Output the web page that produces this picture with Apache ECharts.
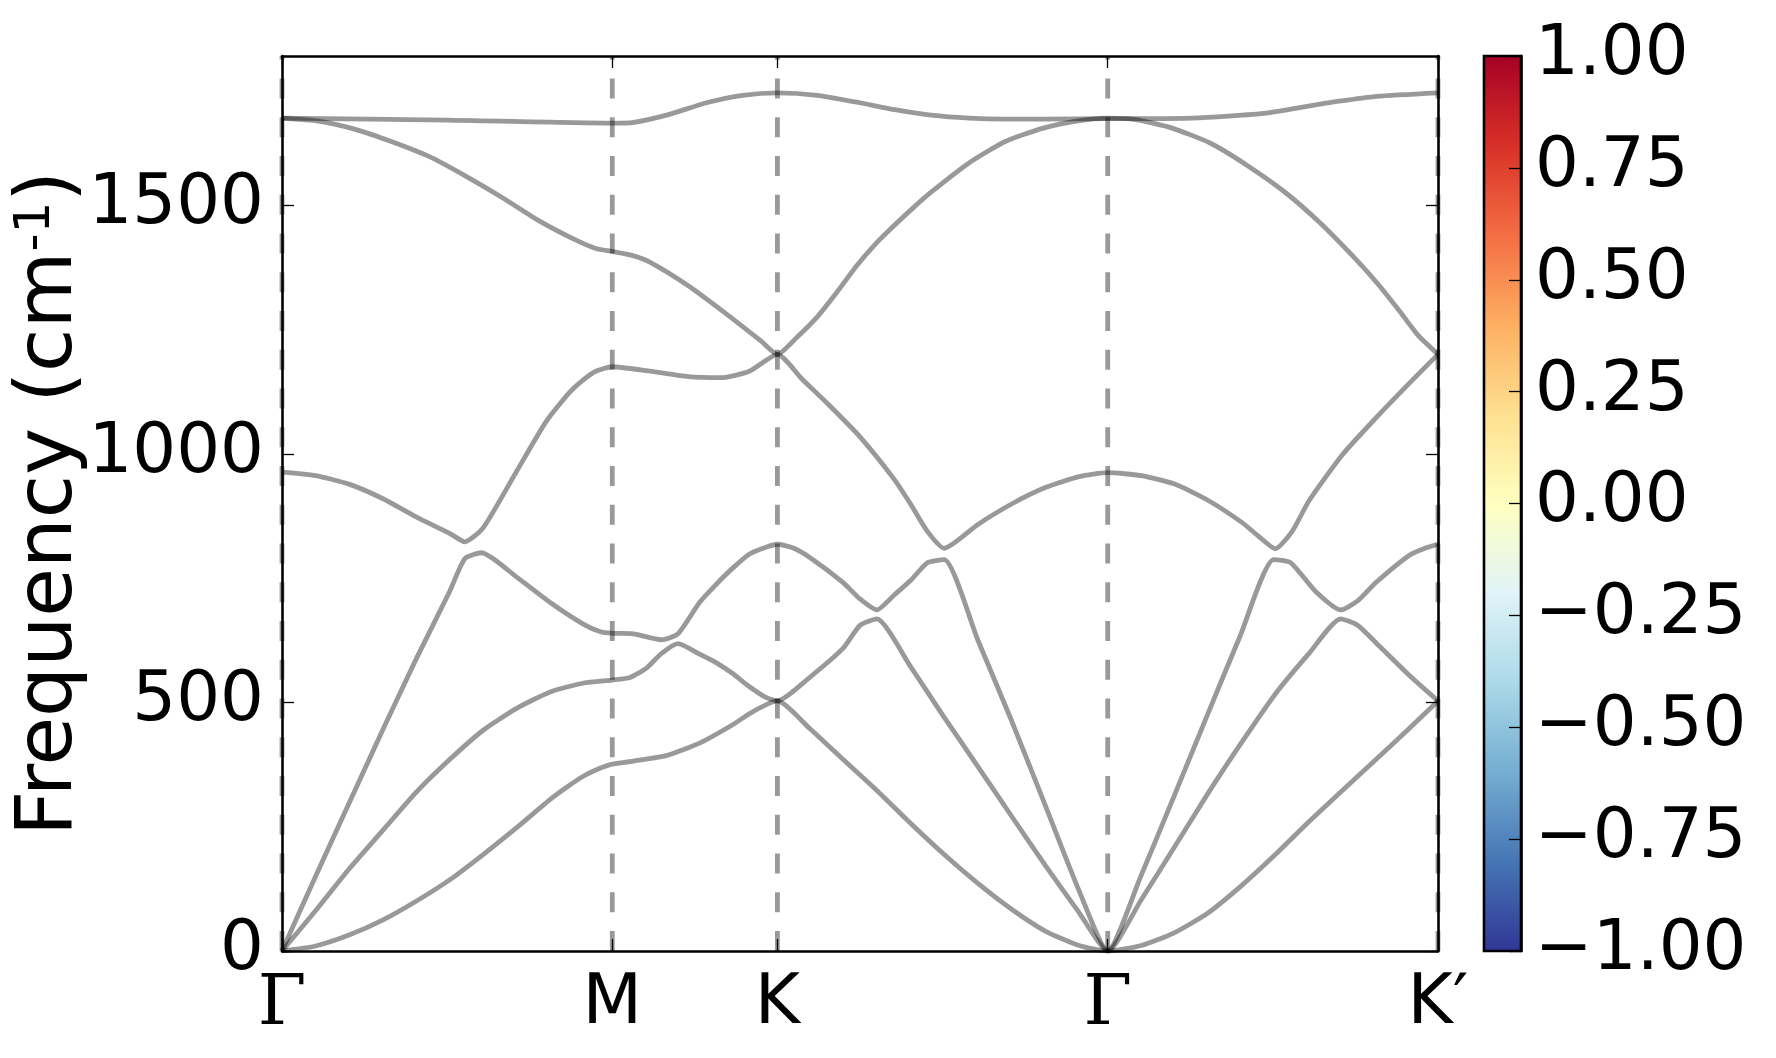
<!DOCTYPE html>
<html>
<head>
<meta charset="utf-8">
<script src="https://cdn.jsdelivr.net/npm/echarts@6/dist/echarts.min.js"></script>
<style>
  html, body { margin: 0; padding: 0; background: #fff; }
  #main { width: 1776px; height: 1058px; }
</style>
</head>
<body>
<div id="main"></div>
<script>
// high-symmetry points along the path (path length units) and their labels
var kTicks = [0, 2, 3, 5, 7];
var kLabels = ['Γ', 'M', 'K', 'Γ', 'K′'];
var freqTicks = [0, 500, 1000, 1500];
var cbTicks = [-1, -0.75, -0.5, -0.25, 0, 0.25, 0.5, 0.75, 1];

// phonon bands, [k, frequency cm-1] (bands sorted by energy)
var band1 = [[0,0],[0.203,10],[0.406,32],[0.609,62],[0.812,100],[1.015,143],[1.218,194],[1.421,248],[1.624,305],[1.726,330],[1.827,352],[1.929,368],[2,376],
  [2.127,382],[2.327,393],[2.528,418],[2.729,455],[2.829,477],[2.93,495],[3,503],
  [3.194,448],[3.398,385],[3.602,323],[3.806,257],[4.01,194],[4.214,136],[4.418,84],[4.622,40],[4.827,11],[5,0],
  [5.203,11],[5.406,37],[5.609,77],[5.812,132],[6.015,194],[6.218,260],[6.421,323],[6.624,385],[6.827,448],[7,503]];
var band2 = [[0,0],[0.203,81],[0.406,165],[0.609,242],[0.812,319],[1.015,385],[1.218,444],[1.421,488],[1.624,521],[1.827,539],[2,545],
  [2.107,550],[2.207,569],[2.297,598],[2.398,618],[2.528,597],[2.628,580],[2.729,558],[2.829,532],[2.93,510],[3,503],
  [3.194,550],[3.398,609],[3.5,655],[3.602,668],[3.806,572],[4.01,470],[4.214,371],[4.418,271],[4.622,172],[4.827,77],[5,0],
  [5.203,103],[5.406,210],[5.609,318],[5.812,420],[6.015,517],[6.218,598],[6.411,668],[6.513,655],[6.624,620],[6.827,554],[7,503]];
var band3 = [[0,0],[0.203,150],[0.406,297],[0.609,444],[0.812,587],[1.015,723],[1.107,789],[1.208,801],[1.421,752],[1.624,701],[1.827,657],[1.929,642],[2,639],
  [2.127,638],[2.297,626],[2.398,638],[2.528,701],[2.628,737],[2.729,770],[2.829,798],[2.93,812],[3,818],
  [3.092,811],[3.194,792],[3.398,741],[3.5,708],[3.602,686],[3.704,715],[3.806,745],[3.908,781],[4.01,787],[4.214,625],[4.418,463],[4.622,293],[4.827,121],[5,0],
  [5.2,150],[5.4,310],[5.6,472],[5.8,632],[6.005,787],[6.107,781],[6.259,723],[6.411,686],[6.513,704],[6.624,741],[6.827,796],[6.929,811],[7,818]];
var band4 = [[0,963],[0.203,956],[0.406,939],[0.609,910],[0.812,873],[1.015,840],[1.107,823],[1.218,851],[1.421,965],[1.6,1065],[1.74,1123],[1.83,1150],[1.9,1166],[2,1175],
  [2.23,1166],[2.46,1155],[2.66,1153],[2.83,1166],[3,1200],
  [3.15,1150],[3.3,1102],[3.5,1034],[3.704,950],[3.806,899],[3.908,844],[4.01,810],[4.214,858],[4.418,899],[4.622,932],[4.827,954],[5,962],
  [5.203,956],[5.406,939],[5.609,906],[5.812,862],[5.914,834],[6.015,809],[6.117,844],[6.218,905],[6.421,998],[6.624,1072],[6.827,1142],[7,1200]];
var band5 = [[0,1675],[0.22,1669],[0.45,1652],[0.67,1627],[0.89,1598],[1.12,1557],[1.34,1514],[1.56,1468],[1.79,1428],[1.9,1413],[2,1407],
  [2.12,1399],[2.23,1385],[2.46,1338],[2.68,1284],[2.9,1227],[3,1200],
  [3.12,1235],[3.24,1275],[3.36,1325],[3.48,1378],[3.6,1424],[3.71,1460],[3.82,1494],[3.93,1526],[4.16,1585],[4.38,1628],[4.61,1655],[4.83,1670],[5,1675],
  [5.17,1672],[5.39,1655],[5.62,1625],[5.84,1581],[6.07,1527],[6.29,1463],[6.52,1385],[6.64,1340],[6.76,1290],[6.88,1238],[7,1200]];
var band6 = [[0,1675],[1,1671],[2,1665],[2.12,1666],[2.34,1682],[2.57,1706],[2.79,1721],[3,1726],[3.24,1721],[3.5,1706],[3.71,1692],[3.93,1681],[4.16,1675],
  [4.38,1673],[4.61,1673],[5,1674],[5.28,1674],[5.51,1675],[5.73,1679],[5.96,1685],[6.18,1697],[6.4,1709],[6.63,1719],[7,1726]];

var bands = [band1, band2, band3, band4, band5, band6];
var fMax = 1800;

// RdYlBu reversed, top (1.00) to bottom (-1.00)
var cbColors = ['#a50026', '#d73027', '#f46d43', '#fdae61', '#fee090', '#ffffbf', '#e0f3f8', '#abd9e9', '#74add1', '#4575b4', '#313695'];

var myChart = echarts.init(document.getElementById('main'));

var gray = 'rgba(0,0,0,0.4)';
var font = 'DejaVu Sans';
var tickFont = 69;

var seriesArr = [];
// dashed vertical lines at the high-symmetry points
kTicks.forEach(function (k) {
    seriesArr.push({
        type: 'line',
        xAxisIndex: 0,
        yAxisIndex: 0,
        data: [[k, 0], [k, fMax]],
        symbol: 'none',
        silent: true,
        lineStyle: { color: gray, width: 4.8, type: [20, 18.75] },
        z: 2
    });
});
bands.forEach(function (b) {
    seriesArr.push({
        type: 'line',
        xAxisIndex: 0,
        yAxisIndex: 0,
        data: b,
        symbol: 'none',
        smooth: 0.2,
        lineStyle: { color: gray, width: 4.8 },
        z: 3
    });
});

var gradStops = cbColors.map(function (c, i) {
    return { offset: i / (cbColors.length - 1), color: c };
});

var tickStyle = { color: '#000', width: 1.3 };
var frameStyle = { color: '#000', width: 2.6 };

var option = {
    animation: false,
    backgroundColor: '#fff',
    textStyle: { fontFamily: font },
    grid: [
        { left: 282, top: 56, width: 1156, height: 895, containLabel: false, outerBoundsMode: 'none' },
        { left: 1484, top: 56, width: 37, height: 895, containLabel: false, outerBoundsMode: 'none' }
    ],
    xAxis: [
        {
            gridIndex: 0, type: 'value', min: 0, max: 7, position: 'bottom',
            axisLine: { show: true, onZero: false, lineStyle: frameStyle },
            axisTick: { show: true, inside: true, length: 12, customValues: kTicks, lineStyle: tickStyle },
            axisLabel: {
                customValues: kTicks, margin: 20, color: '#000', fontSize: tickFont, fontFamily: font,
                formatter: function (v) {
                    var i = kTicks.indexOf(Math.round(v * 1000) / 1000);
                    var s = i >= 0 ? kLabels[i] : '';
                    return s === 'Γ' ? '{g|Γ}' : s;
                },
                rich: { g: { fontFamily: 'DejaVu Serif', fontSize: 70, color: '#000' } }
            },
            splitLine: { show: false }
        },
        {
            gridIndex: 0, type: 'value', min: 0, max: 7, position: 'top',
            axisLine: { show: true, onZero: false, lineStyle: frameStyle },
            axisTick: { show: true, inside: true, length: 12, customValues: kTicks, lineStyle: tickStyle },
            axisLabel: { show: false },
            splitLine: { show: false }
        },
        {
            gridIndex: 1, type: 'value', min: 0, max: 1, show: false
        }
    ],
    yAxis: [
        {
            gridIndex: 0, type: 'value', min: 0, max: fMax, position: 'left',
            name: 'Frequency (cm{sup|-1})',
            nameLocation: 'middle',
            nameGap: 192,
            nameMoveOverlap: false,
            nameTextStyle: {
                fontSize: 79, color: '#000', fontFamily: font,
                rich: { sup: { fontSize: 50, verticalAlign: 'top', color: '#000', fontFamily: font } }
            },
            axisLine: { show: true, onZero: false, lineStyle: frameStyle },
            axisTick: { show: true, inside: true, length: 12, customValues: freqTicks, lineStyle: tickStyle },
            axisLabel: {
                customValues: freqTicks, margin: 18, color: '#000', fontSize: tickFont, fontFamily: font,
                formatter: function (v) { return String(v); }
            },
            splitLine: { show: false }
        },
        {
            gridIndex: 0, type: 'value', min: 0, max: fMax, position: 'right',
            axisLine: { show: true, onZero: false, lineStyle: frameStyle },
            axisTick: { show: true, inside: true, length: 12, customValues: freqTicks, lineStyle: tickStyle },
            axisLabel: { show: false },
            splitLine: { show: false }
        },
        {
            gridIndex: 1, type: 'value', min: -1, max: 1, position: 'right',
            axisLine: { show: true, onZero: false, lineStyle: frameStyle },
            axisTick: { show: true, inside: true, length: 12, customValues: cbTicks, lineStyle: tickStyle },
            axisLabel: {
                customValues: cbTicks, margin: 14, color: '#000', fontSize: tickFont, fontFamily: font,
                formatter: function (v) {
                    return (v < 0 ? '\u2212' : '') + Math.abs(v).toFixed(2);
                }
            },
            splitLine: { show: false },
            z: 10
        }
    ],
    graphic: [
        {
            type: 'rect',
            z: -10,
            shape: { x: 1484, y: 56, width: 37, height: 895 },
            style: {
                fill: new echarts.graphic.LinearGradient(0, 0, 0, 1, gradStops),
                stroke: '#000',
                lineWidth: 2.6
            }
        }
    ],
    series: seriesArr
};

myChart.setOption(option);
</script>
</body>
</html>
